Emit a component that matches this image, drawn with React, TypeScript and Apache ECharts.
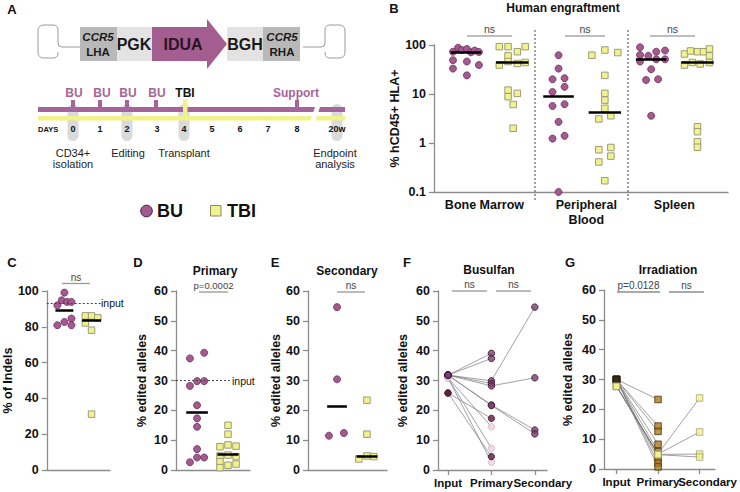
import React, { useEffect, useRef } from 'react';
import * as echarts from 'echarts';

const FONT = '"Liberation Sans", Arial, Helvetica, sans-serif';
const NARROW = '"Liberation Sans Narrow", "Liberation Sans", Arial, sans-serif';

// ---------- Panel B: human engraftment (log scale) ----------
const bTissues = ['Bone Marrow', 'Peripheral\nBlood', 'Spleen'];
const bBoneMarrowBU = [73, 88, 79, 83, 71, 77, 72, 49, 46, 39, 33, 24];
const bBoneMarrowBUJitter = [-0.28, -0.17, -0.09, 0.02, 0.11, 0.19, 0.28, -0.28, 0.02, 0.28, -0.28, 0.02];
const bBoneMarrowTBI = [92.5, 92.5, 92.5, 73, 60, 39, 46, 42, 44, 12, 8.8, 10.3, 6.1, 2.0];
const bBoneMarrowTBIJitter = [-0.28, -0.09, 0.28, 0.11, -0.09, -0.28, -0.09, 0.11, 0.28, -0.09, -0.09, 0.11, 0.02, 0.02];
const bBloodBU = [62, 33, 20, 21, 11, 14, 5.7, 6.2, 2.7, 1.23, 1.4, 0.1];
const bBloodBUJitter = [0, 0, -0.13, 0.13, -0.13, 0.13, -0.13, 0.13, 0, -0.13, 0.13, 0];
const bBloodTBI = [62, 79, 70, 24, 10.3, 7.5, 5.1, 3.6, 3.1, 0.73, 0.81, 0.41, 0.54, 0.17];
const bBloodTBIJitter = [-0.28, 0, 0.28, 0, 0, 0, 0, 0.13, -0.13, -0.13, 0.13, -0.13, 0.13, 0];
const bSpleenBU = [90, 62.5, 46, 60, 73, 77, 51, 51, 32, 19.3, 20, 3.6];
const bSpleenBUJitter = [-0.24, -0.24, -0.24, -0.06, 0.11, 0.3, 0.11, 0.3, 0, -0.11, 0.15, 0];
const bSpleenTBI = [65.5, 75.5, 73, 73, 83, 60, 39, 44, 41, 44, 2.15, 1.7, 1.06, 0.82];
const bSpleenTBIJitter = [-0.28, -0.15, 0, 0.13, 0.26, 0.26, -0.28, -0.11, 0.06, 0.26, 0, 0, 0, 0];
const bCenters = [70, 44, 8.8, 4.3, 51, 44];
const bTicks = [0.1, 1, 10, 100];

// ---------- Panel C: % of indels ----------
const cBU = [99.1, 94.8, 93.9, 93.9, 92, 84.6, 82.7, 80.9, 80.9];
const cBUJitter = [0, -0.1, 0.1, 0.26, -0.26, 0.26, 0, -0.26, 0.26];
const cTBI = [86.1, 86.1, 85, 82.2, 78.1, 31.2];
const cTBIJitter = [-0.23, 0, 0.23, -0.23, 0, 0];
const cCenters = [89.2, 83.6];
const cInput = 93;

// ---------- Panel D: primary ----------
const dBU = [37.4, 39.3, 28.2, 29.8, 29.8, 21.7, 17.3, 14.5, 7.0, 2.6, 4.2, 4.2];
const dBUJitter = [-0.23, 0.23, -0.23, 0, 0.23, 0, 0, 0, 0, -0.23, 0, 0.23];
const dTBI = [15, 12, 7.8, 8.4, 8.0, 4.7, 5.0, 4.5, 2.8, 0.8, 1.6, 2.0];
const dTBIJitter = [0, 0, -0.26, 0, 0.26, -0.26, 0, 0.26, -0.26, -0.26, 0, 0.26];
const dCenters = [19.5, 5.2];
const dInput = 30;

// ---------- Panel E: secondary ----------
const eBU = [54.6, 30.4, 11.5, 12.4];
const eBUJitter = [0, 0, -0.27, 0.23];
const eTBI = [23.4, 12.0, 3.7, 4.7, 4.5];
const eTBIJitter = [0, 0, -0.27, 0, 0.23];
const eCenters = [21.5, 4.5];

// ---------- Panel F: busulfan, per mouse ----------
const stages = ['Input', 'Primary', 'Secondary'];
const fDonor = ['hatch', 'hatch', 'hatch', 'hatch', 'hatch', 'hatch', 'hatch', 'dark', 'dark', 'light', 'light', 'light'];
const fInput = [31.8, 31.8, 31.8, 31.8, 31.8, 31.8, 31.8, 25.8, 25.8, 30.9, 30.9, 30.9];
const fPrimary = [39.1, 37.4, 29.9, 29.0, 28.2, 21.8, 21.6, 17.3, 4.5, 14.5, 7.3, 2.6];
const fSecondary: (number | null)[] = [null, null, 54.6, null, 30.9, 13.4, 12.1, null, null, null, null, null];

// ---------- Panel G: irradiation, per mouse ----------
const gDonor = ['brown', 'brown', 'brown', 'brown', 'brown', 'brown', 'brown', 'brown', 'yellow', 'yellow', 'yellow', 'yellow'];
const gInput = [30, 30, 30, 30, 30, 30, 30, 30, 27.7, 27.7, 27.7, 27.7];
const gPrimary = [23.3, 14.4, 12.6, 8.3, 5.8, 3.4, 2.0, 0.7, 5.1, 5.0, 4.9, 4.8];
const gSecondary: (number | null)[] = [null, null, null, null, null, null, null, null, 23.8, 12.4, 5.0, 4.0];

const AXIS = '#8c8c8c';
const PURPLE = '#a45a8e';
const PURPLE_EDGE = '#6a2c5c';
const YELLOW = '#f2f28c';
const YELLOW_EDGE = '#9c9c7c';

const loopL = 'M80 47 L62 47 Q58 47 58 43 L58 30 Q58 25 53 25 L44 25 Q38 25 38 31 L38 52 Q38 58 44 58 L53 58 Q58 58 58 53 L58 52';
const loopR = 'M303 47 L321 47 Q325 47 325 43 L325 30 Q325 25 330 25 L339 25 Q345 25 345 31 L345 52 Q345 58 339 58 L330 58 Q325 58 325 53 L325 52';

function yValue(gridIndex: number, max: number, interval: number, name: string, nameGap: number) {
  return {
    type: 'value', gridIndex, min: 0, max, interval, name, nameLocation: 'middle', nameRotate: 90, nameGap,
    nameTextStyle: { fontWeight: 'bold', fontSize: 12.5, color: '#111', fontFamily: FONT },
    axisLine: { show: true, onZero: false, lineStyle: { color: AXIS, width: 1.3 } },
    axisTick: { show: true, length: 5, lineStyle: { color: AXIS, width: 1.3 } },
    axisLabel: { fontWeight: 'bold', fontSize: 12.5, color: '#111', margin: 8, fontFamily: FONT, showMinLabel: true, showMaxLabel: true },
    splitLine: { show: false },
  };
}

function xPlain(gridIndex: number, min: number, max: number) {
  return {
    type: 'value', gridIndex, min, max,
    axisLine: { show: true, onZero: false, lineStyle: { color: AXIS, width: 1.3 } },
    axisTick: { show: false }, axisLabel: { show: false }, splitLine: { show: false },
  };
}

// Stage axis: the outer two custom values are hidden guards so that the
// library's min/max overlap logic never hides a real stage label.
function xStages(gridIndex: number, min: number, max: number) {
  const pos = [min + 0.02, 0, 1, 2, max - 0.02];
  const isStage = (v: number) => Math.abs(v - Math.round(v)) < 1e-6;
  const lab = { fontWeight: 'bold', fontSize: 11.5, color: '#111', fontFamily: NARROW };
  return {
    type: 'value', gridIndex, min, max,
    axisLine: { show: true, onZero: false, lineStyle: { color: AXIS, width: 1.3 } },
    axisTick: { show: true, length: 5, customValues: pos, lineStyle: { color: AXIS, width: 1.3 } },
    axisLabel: {
      customValues: pos, ...lab, margin: 7,
      showMinLabel: false, showMaxLabel: false,
      rich: { s: { ...lab }, last: { ...lab, padding: [0, 0, 0, 16] } },
      formatter: (v: number) => {
        if (!isStage(v)) return '';
        const i = Math.round(v);
        return i === 2 ? `{last|${stages[i]}}` : `{s|${stages[i] ?? ''}}`;
      },
    },
    splitLine: { show: false },
  };
}

function centerLine(c: number, m: number, hw: number, width = 2.5) {
  return {
    symbol: ['none', 'none'], silent: true, animation: false,
    label: { show: false },
    lineStyle: { color: '#000', width, type: 'solid' },
    data: [[{ coord: [c - hw, m] }, { coord: [c + hw, m] }]],
  };
}

function dots(axis: number, center: number, values: number[], jitter: number[], kind: 'BU' | 'TBI', median: number, hw: number, size = 7) {
  return {
    type: 'scatter', xAxisIndex: axis, yAxisIndex: axis, silent: true, clip: false, z: 3,
    symbol: kind === 'BU' ? 'circle' : 'rect', symbolSize: kind === 'BU' ? size : size - 0.5,
    itemStyle: kind === 'BU'
      ? { color: PURPLE, borderColor: PURPLE_EDGE, borderWidth: 0.8, opacity: 1 }
      : { color: YELLOW, borderColor: YELLOW_EDGE, borderWidth: 1, opacity: 1 },
    data: values.map((v, i) => [center + jitter[i], v]),
    markLine: centerLine(center, median, hw),
  };
}

function inputLine(axis: number, x1: number, x2: number, y: number) {
  return {
    type: 'scatter', xAxisIndex: axis, yAxisIndex: axis, silent: true, data: [], z: 1,
    markLine: {
      symbol: ['none', 'none'], silent: true, animation: false, label: { show: false },
      lineStyle: { color: '#444', width: 1, type: [2, 2] },
      data: [[{ coord: [x1, y] }, { coord: [x2, y] }]],
    },
  };
}

function buildOption() {
  const gfx: any[] = [];
  const text = (t: string, x: number, y: number, o: any = {}) =>
    gfx.push({ type: 'text', x, y, silent: true, z: 10, style: { text: t, fontFamily: FONT, fontSize: 12, fill: '#111', align: 'center', verticalAlign: 'middle', ...o } });
  const rect = (x: number, y: number, w: number, h: number, fill: string, r = 0, extra: any = {}) =>
    gfx.push({ type: 'rect', silent: true, z: 5, shape: { x, y, width: w, height: h, r }, style: { fill, ...extra } });
  const line = (x1: number, y1: number, x2: number, y2: number, stroke: string, lineWidth = 1, lineDash?: number[]) =>
    gfx.push({ type: 'line', silent: true, z: 5, shape: { x1, y1, x2, y2 }, style: { stroke, lineWidth, lineDash } });
  const sig = (x1: number, x2: number, y: number, label: string, color = '#999', lw = 1.3, fs = 10) => {
    line(x1, y, x2, y, color, lw);
    text(label, (x1 + x2) / 2, y - 1.5, { fontSize: fs, fill: '#444', verticalAlign: 'bottom' });
  };

  // ---- Panel letters ----
  const bold = { fontWeight: 'bold', fontSize: 13 };
  text('A', 12, 9, bold);
  text('B', 394, 8, bold);
  text('C', 12, 262, bold);
  text('D', 138, 262, bold);
  text('E', 275, 262, bold);
  text('F', 407, 262, bold);
  text('G', 570, 262, bold);

  // ---- Panel A: construct ----
  gfx.push({ type: 'loopL', silent: true, z: 5, style: { fill: 'none', stroke: '#9a9a9a', lineWidth: 1 } });
  gfx.push({ type: 'loopR', silent: true, z: 5, style: { fill: 'none', stroke: '#9a9a9a', lineWidth: 1 } });
  rect(80, 27, 37, 34, '#b9b9b9');
  rect(117, 27, 35, 34, '#e3e3e3');
  gfx.push({ type: 'polygon', silent: true, z: 5, shape: { points: [[152, 27], [207, 27], [207, 19], [227, 44], [207, 69], [207, 61], [152, 61]] }, style: { fill: '#a45d8f' } });
  rect(227, 27, 36, 34, '#e3e3e3');
  rect(263, 27, 37, 34, '#b9b9b9');
  const nar = { fontFamily: NARROW, fill: '#1a1a1a', fontWeight: 'bold' };
  text('CCR5', 98, 37, { ...nar, fontSize: 11.5, fontStyle: 'italic' });
  text('LHA', 98, 52, { ...nar, fontSize: 11.5 });
  text('PGK', 134, 44, { ...nar, fontSize: 16 });
  text('IDUA', 183, 44, { ...nar, fontSize: 16, fill: '#2a1424' });
  text('BGH', 245, 44, { ...nar, fontSize: 16 });
  text('CCR5', 282, 37, { ...nar, fontSize: 11.5, fontStyle: 'italic' });
  text('RHA', 282, 52, { ...nar, fontSize: 11.5 });

  // ---- Panel A: timeline ----
  const TL = '#a5659a';
  [73, 127, 184, 337].forEach((cx) => rect(cx - 5.5, 104, 11, 37, '#dadada', 5.5));
  rect(38, 107, 307, 5, TL);
  rect(38, 116, 307, 4.5, '#f1f28c');
  [73, 100, 127, 156, 297].forEach((cx) => rect(cx - 2, 100, 4, 8, TL));
  rect(183, 99, 4.5, 19, '#f1f28c');
  gfx.push({ type: 'polygon', silent: true, z: 6, shape: { points: [[316, 104], [321, 104], [315, 122], [310, 122]] }, style: { fill: '#fff' } });
  const tlText = { fill: TL, fontSize: 12, fontFamily: NARROW, fontWeight: 'bold' };
  [74, 102, 128, 157].forEach((x) => text('BU', x, 93, tlText));
  text('TBI', 185, 93, { fontWeight: 'bold', fontSize: 12, fontFamily: NARROW });
  text('Support', 296, 93, tlText);
  text('DAYS', 38, 129, { align: 'left', fontWeight: 'bold', fontSize: 7.5 });
  const dayX = [73, 100, 127, 157, 184, 212, 240, 268, 297, 337];
  const dayT = ['0', '1', '2', '3', '4', '5', '6', '7', '8', '20w'];
  dayX.forEach((x, i) => text(dayT[i], x, 129, { fontWeight: 'bold', fontSize: 9 }));
  const cap = { fontSize: 11, fill: '#222', fontFamily: NARROW };
  text('CD34+', 73, 153, cap);
  text('isolation', 73, 164, cap);
  text('Editing', 128, 153, cap);
  text('Transplant', 184, 153, cap);
  text('Endpoint', 335, 153, cap);
  text('analysis', 335, 164, cap);

  // ---- Legend ----
  gfx.push({ type: 'circle', silent: true, z: 5, shape: { cx: 146.5, cy: 211, r: 5.8 }, style: { fill: PURPLE, stroke: '#4a1f42', lineWidth: 1 } });
  text('BU', 157, 211, { align: 'left', fontWeight: 'bold', fontSize: 18 });
  rect(210.5, 205.5, 10.5, 10.5, YELLOW, 0, { stroke: '#8a8a6a', lineWidth: 1 });
  text('TBI', 227, 211, { align: 'left', fontWeight: 'bold', fontSize: 18 });

  // ---- Titles ----
  const ttl = { fontWeight: 'bold', fontSize: 12 };
  text('Human engraftment', 563, 8, ttl);
  text('Primary', 215, 271, ttl);
  text('Secondary', 347, 271, ttl);
  text('Busulfan', 489, 270, ttl);
  text('Irradiation', 668, 270, ttl);

  // ---- Panel B decorations ----
  line(535, 30, 535, 200, '#444', 1, [2, 2]);
  line(628, 30, 628, 200, '#444', 1, [2, 2]);
  sig(467, 512, 36, 'ns', '#a8a8a8', 1.6, 10.5);
  sig(565, 605, 36, 'ns', '#a8a8a8', 1.6, 10.5);
  sig(650, 695, 36, 'ns', '#a8a8a8', 1.6, 10.5);

  // ---- Lower panel annotations ----
  sig(62, 90, 283.5, 'ns', '#999', 1.3, 10);
  text('input', 101, 303, { align: 'left', fontSize: 10.5 });
  text('input', 232, 380.5, { align: 'left', fontSize: 10.5 });
  sig(199, 228, 292, 'p=0.0002', '#777', 1, 9.5);
  sig(337, 365, 292, 'ns', '#777', 1, 10);
  sig(452, 487, 291, 'ns', '#777', 1, 10);
  sig(496, 531, 291, 'ns', '#777', 1, 10);
  sig(617, 660, 292, 'p=0.0128', '#555', 1, 10);
  sig(669, 704, 292, 'ns', '#555', 1, 10);

  const grids = [
    { left: 434, top: 45, width: 294, height: 147 }, // B
    { left: 38, top: 291, width: 72, height: 179 }, // C
    { left: 176, top: 291, width: 74, height: 179 }, // D
    { left: 308, top: 291, width: 79, height: 179 }, // E
    { left: 438, top: 291, width: 109, height: 179 }, // F
    { left: 604, top: 290, width: 116, height: 179 }, // G
  ];

  const bLabelPos = [0.4, 2.6, 4.5];
  const xAxes: any[] = [
    {
      ...xPlain(0, -0.69, 5.66),
      axisLabel: {
        show: true, customValues: bLabelPos, fontWeight: 'bold', fontSize: 12.5, lineHeight: 15, color: '#111', margin: 5, fontFamily: FONT,
        showMinLabel: true, showMaxLabel: true,
        formatter: (v: number) => { const i = bLabelPos.findIndex((p) => Math.abs(p - v) < 1e-6); return i >= 0 ? bTissues[i] : ''; },
      },
    },
    xPlain(1, -0.65, 1.68),
    xPlain(2, -0.68, 1.71),
    xPlain(3, -0.97, 1.67),
    xStages(4, -0.23, 2.28),
    xStages(5, -0.3, 2.37),
  ];

  const yAxes: any[] = [
    {
      ...yValue(0, 100, 0, '% hCD45+ HLA+', 31),
      type: 'log', logBase: 10, min: 0.1, max: 100, interval: undefined,
      axisLabel: {
        fontWeight: 'bold', fontSize: 12.5, color: '#111', margin: 8, fontFamily: FONT, customValues: bTicks,
        showMinLabel: true, showMaxLabel: true,
        formatter: (v: number) => String(parseFloat(Number(v).toPrecision(3))),
      },
      axisTick: { show: true, length: 5, customValues: bTicks, lineStyle: { color: AXIS, width: 1.3 } },
      minorTick: { show: false },
    },
    yValue(1, 100, 20, '% of Indels', 24),
    yValue(2, 60, 10, '% edited alleles', 28),
    yValue(3, 60, 10, '% edited alleles', 23),
    yValue(4, 60, 10, '% edited alleles', 29),
    yValue(5, 60, 10, '% edited alleles', 30),
  ];

  const series: any[] = [
    dots(0, 0, bBoneMarrowBU, bBoneMarrowBUJitter, 'BU', bCenters[0], 0.33),
    dots(0, 1, bBoneMarrowTBI, bBoneMarrowTBIJitter, 'TBI', bCenters[1], 0.35),
    dots(0, 2, bBloodBU, bBloodBUJitter, 'BU', bCenters[2], 0.33),
    dots(0, 3, bBloodTBI, bBloodTBIJitter, 'TBI', bCenters[3], 0.35),
    dots(0, 4, bSpleenBU, bSpleenBUJitter, 'BU', bCenters[4], 0.33),
    dots(0, 5, bSpleenTBI, bSpleenTBIJitter, 'TBI', bCenters[5], 0.35),
    inputLine(1, -0.65, 1.35, cInput),
    dots(1, 0, cBU, cBUJitter, 'BU', cCenters[0], 0.33),
    dots(1, 1, cTBI, cTBIJitter, 'TBI', cCenters[1], 0.35),
    inputLine(2, -0.68, 1.06, dInput),
    dots(2, 0, dBU, dBUJitter, 'BU', dCenters[0], 0.35),
    dots(2, 1, dTBI, dTBIJitter, 'TBI', dCenters[1], 0.34),
    dots(3, 0, eBU, eBUJitter, 'BU', eCenters[0], 0.33),
    dots(3, 1, eTBI, eTBIJitter, 'TBI', eCenters[1], 0.35),
  ];

  const mouseLine = (axis: number, a: number, b: number, c: number | null) => ({
    type: 'line', xAxisIndex: axis, yAxisIndex: axis, silent: true, z: 2, symbol: 'none', clip: false,
    lineStyle: { color: '#7a7a7a', width: 0.7 },
    data: c == null ? [[0, a], [1, b]] : [[0, a], [1, b], [2, c]],
  });
  fInput.forEach((v, i) => series.push(mouseLine(4, v, fPrimary[i], fSecondary[i])));
  gInput.forEach((v, i) => series.push(mouseLine(5, v, gPrimary[i], gSecondary[i])));

  const fStyle: Record<string, any> = {
    light: { color: '#efd5e1', borderColor: '#c9a3b7', borderWidth: 0.8 },
    dark: { color: '#5b1a3d', borderColor: '#2c0a1d', borderWidth: 0.8 },
    hatch: { color: '#7c3e70', borderColor: '#3a1233', borderWidth: 1 },
  };
  ['light', 'dark', 'hatch'].forEach((d) => {
    const data: number[][] = [];
    fDonor.forEach((dd, i) => {
      if (dd !== d) return;
      data.push([0, fInput[i]], [1, fPrimary[i]]);
      if (fSecondary[i] != null) data.push([2, fSecondary[i] as number]);
    });
    series.push({ type: 'scatter', xAxisIndex: 4, yAxisIndex: 4, silent: true, clip: false, z: 3, symbol: 'circle', symbolSize: 6.5, itemStyle: fStyle[d], data });
  });

  const gStyle: Record<string, any[]> = {
    brown: [
      { color: '#3b2a12', borderColor: '#1a1206', borderWidth: 0.8 },
      { color: '#b37b22', borderColor: '#4a3008', borderWidth: 1 },
      { color: '#b37b22', borderColor: '#4a3008', borderWidth: 1 },
    ],
    yellow: [
      { color: YELLOW, borderColor: '#8f8f66', borderWidth: 0.8 },
      { color: YELLOW, borderColor: '#8f8f66', borderWidth: 0.8 },
      { color: YELLOW, borderColor: '#8f8f66', borderWidth: 0.8 },
    ],
  };
  ['brown', 'yellow'].forEach((d) => {
    [gInput, gPrimary, gSecondary].forEach((arr, s) => {
      const data: number[][] = [];
      gDonor.forEach((dd, i) => {
        const v = arr[i];
        if (dd === d && v != null) data.push([s, v as number]);
      });
      if (data.length) series.push({ type: 'scatter', xAxisIndex: 5, yAxisIndex: 5, silent: true, clip: false, z: 3, symbol: 'rect', symbolSize: 6.5, itemStyle: gStyle[d][s], data });
    });
  });

  return {
    animation: false,
    backgroundColor: '#ffffff',
    textStyle: { fontFamily: FONT },
    grid: grids.map((g) => ({ ...g, containLabel: false })),
    xAxis: xAxes,
    yAxis: yAxes,
    series,
    graphic: { elements: gfx },
  };
}

let registered = false;

export default function App() {
  const ref = useRef<HTMLDivElement>(null);
  useEffect(() => {
    if (!registered) {
      echarts.graphic.registerShape('loopL', echarts.graphic.extendPath(loopL, {}) as any);
      echarts.graphic.registerShape('loopR', echarts.graphic.extendPath(loopR, {}) as any);
      registered = true;
    }
    const chart = echarts.init(ref.current as HTMLDivElement, null, { renderer: 'svg', width: 740, height: 492 });
    chart.setOption(buildOption() as any);
    return () => chart.dispose();
  }, []);
  return (
    <div
      ref={ref}
      style={{ position: 'fixed', left: 0, top: 0, width: 740, height: 492, background: '#fff' }}
    />
  );
}
